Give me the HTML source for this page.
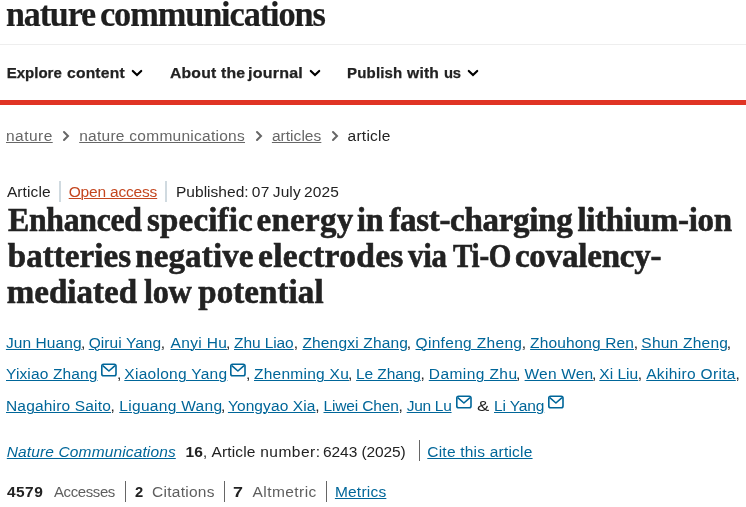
<!DOCTYPE html>
<html lang="en"><head><meta charset="utf-8"><title>Enhanced specific energy in fast-charging lithium-ion batteries negative electrodes via Ti-O covalency-mediated low potential | Nature Communications</title>
<style>
html,body{margin:0;padding:0;background:#fff;}
body{width:746px;height:507px;overflow:hidden;position:relative;font-family:'Liberation Sans',sans-serif;}
.s{position:absolute;white-space:nowrap;}
.cm{color:#222;text-decoration:none;letter-spacing:0}
.env{position:absolute;}
.rule{position:absolute;}
.f-title{-webkit-text-stroke:0.6px #222;}
.f-logo{-webkit-text-stroke:0.2px #1f1f1f;}
.f-nav{-webkit-text-stroke:0.25px #222;}
.f-logo{font-family:'Liberation Serif', serif;font-size:36px;line-height:36px;font-weight:700;font-style:normal;color:#1f1f1f}
.f-logo .logo{color:#1f1f1f;text-decoration:none;}
.f-nav{font-family:'Liberation Sans', sans-serif;font-size:15px;line-height:15px;font-weight:700;font-style:normal;color:#222}
.f-nav .nav{color:#222;text-decoration:none;}
.f-bc{font-family:'Liberation Sans', sans-serif;font-size:15.5px;line-height:15.5px;font-weight:400;font-style:normal;color:#666}
.f-bc .bc{color:#666;text-decoration:underline;text-decoration-thickness:1px;text-underline-offset:1px;}
.f-bcl{font-family:'Liberation Sans', sans-serif;font-size:15.5px;line-height:15.5px;font-weight:400;font-style:normal;color:#222}
.f-bcl .bcl{color:#222;text-decoration:none;}
.f-txt{font-family:'Liberation Sans', sans-serif;font-size:15.5px;line-height:15.5px;font-weight:400;font-style:normal;color:#222}
.f-txt .txt{color:#222;text-decoration:none;}
.f-oa{font-family:'Liberation Sans', sans-serif;font-size:15.5px;line-height:15.5px;font-weight:400;font-style:normal;color:#c4461f}
.f-oa .oa{color:#c4461f;text-decoration:underline;text-decoration-thickness:1px;text-underline-offset:1px;}
.f-title{font-family:'Liberation Serif', serif;font-size:33px;line-height:33px;font-weight:700;font-style:normal;color:#222}
.f-title .title{color:#222;text-decoration:none;}
.f-au{font-family:'Liberation Sans', sans-serif;font-size:15.5px;line-height:15.5px;font-weight:400;font-style:normal;color:#069}
.f-au .au{color:#069;text-decoration:underline;text-decoration-thickness:1px;text-underline-offset:1px;}
.f-jn{font-family:'Liberation Sans', sans-serif;font-size:15.5px;line-height:15.5px;font-weight:400;font-style:italic;color:#069}
.f-jn .jn{color:#069;text-decoration:underline;text-decoration-thickness:1px;text-underline-offset:1px;}
.f-bold{font-family:'Liberation Sans', sans-serif;font-size:15.5px;line-height:15.5px;font-weight:700;font-style:normal;color:#222}
.f-bold .bold{color:#222;text-decoration:none;}
.f-gray{font-family:'Liberation Sans', sans-serif;font-size:15.5px;line-height:15.5px;font-weight:400;font-style:normal;color:#5e5e5e}
.f-gray .gray{color:#5e5e5e;text-decoration:none;}
</style></head>
<body>
<header>
<div class="rule" style="left:0;top:44px;width:746px;height:1px;background:#eee"></div>
<nav>
<svg class="rule" style="left:0;top:0" width="746" height="100" viewBox="0 0 746 100">
<path d="M132.8 71 L137 75 L141.2 71" fill="none" stroke="#000" stroke-width="2.2" stroke-linecap="round" stroke-linejoin="miter"/>
<path d="M310.8 71 L315 75 L319.2 71" fill="none" stroke="#000" stroke-width="2.2" stroke-linecap="round" stroke-linejoin="miter"/>
<path d="M468.8 71 L473 75 L477.2 71" fill="none" stroke="#000" stroke-width="2.2" stroke-linecap="round" stroke-linejoin="miter"/>
</svg>
</nav>
<div class="rule" style="left:0;top:100px;width:746px;height:5px;background:#e03424"></div>
</header>
<svg class="rule" style="left:0;top:120px" width="746" height="30" viewBox="0 120 746 30">
<path d="M64 132 L68 136 L64 140" fill="none" stroke="#666" stroke-width="2" stroke-linecap="round"/>
<path d="M257 132 L261 136 L257 140" fill="none" stroke="#666" stroke-width="2" stroke-linecap="round"/>
<path d="M333 132 L337 136 L333 140" fill="none" stroke="#666" stroke-width="2" stroke-linecap="round"/>
</svg>
<div class="rule" style="left:59px;top:181px;width:2px;height:21px;background:#d0dae0"></div>
<div class="rule" style="left:165px;top:181px;width:2px;height:21px;background:#d0dae0"></div>
<div class="rule" style="left:419px;top:440px;width:1px;height:21px;background:#666"></div>
<div class="rule" style="left:125px;top:481px;width:1px;height:21px;background:#666"></div>
<div class="rule" style="left:224px;top:481px;width:1px;height:21px;background:#666"></div>
<div class="rule" style="left:326px;top:481px;width:1px;height:21px;background:#666"></div>
<div class="s f-logo" style="left:6.05px;top:-4px;letter-spacing:-1.200px;transform:scaleX(0.9452);transform-origin:0 0;"><span class="logo">nature</span></div>
<div class="s f-logo" style="left:99.64px;top:-4px;letter-spacing:-1.200px;transform:scaleX(0.9552);transform-origin:0 0;"><span class="logo">communications</span></div>
<div class="s f-nav" style="left:6.70px;top:65px;letter-spacing:0.017px;"><span class="nav">Explore</span></div>
<div class="s f-nav" style="left:67.16px;top:65px;letter-spacing:0.200px;transform:scaleX(1.0406);transform-origin:0 0;"><span class="nav">content</span></div>
<div class="s f-nav" style="left:169.50px;top:65px;letter-spacing:0.200px;transform:scaleX(1.0479);transform-origin:0 0;"><span class="nav">About</span></div>
<div class="s f-nav" style="left:221.20px;top:65px;letter-spacing:0.200px;transform:scaleX(1.0536);transform-origin:0 0;"><span class="nav">the</span></div>
<div class="s f-nav" style="left:248.20px;top:65px;letter-spacing:0.200px;transform:scaleX(1.0697);transform-origin:0 0;"><span class="nav">journal</span></div>
<div class="s f-nav" style="left:347.00px;top:65px;letter-spacing:0.183px;"><span class="nav">Publish</span></div>
<div class="s f-nav" style="left:407.20px;top:65px;letter-spacing:0.200px;transform:scaleX(1.0439);transform-origin:0 0;"><span class="nav">with</span></div>
<div class="s f-nav" style="left:444.01px;top:65px;letter-spacing:-0.200px;transform:scaleX(0.9873);transform-origin:0 0;"><span class="nav">us</span></div>
<div class="s f-bc" style="left:6.00px;top:128px;letter-spacing:0.460px;"><a class="bc">nature</a></div>
<div class="s f-bc" style="left:79.20px;top:128px;letter-spacing:0.265px;"><a class="bc">nature communications</a></div>
<div class="s f-bc" style="left:271.90px;top:128px;letter-spacing:0.043px;"><a class="bc">articles</a></div>
<div class="s f-bcl" style="left:347.50px;top:128px;letter-spacing:0.267px;"><span class="bcl">article</span></div>
<div class="s f-txt" style="left:6.90px;top:184px;letter-spacing:0.117px;"><span class="txt">Article</span></div>
<div class="s f-oa" style="left:68.70px;top:184px;letter-spacing:-0.180px;"><a class="oa">Open access</a></div>
<div class="s f-txt" style="left:176.00px;top:184px;letter-spacing:0.022px;"><span class="txt">Published:</span></div>
<div class="s f-txt" style="left:251.70px;top:184px;letter-spacing:0.400px;"><span class="txt">07</span></div>
<div class="s f-txt" style="left:272.80px;top:184px;letter-spacing:0.100px;"><span class="txt">July</span></div>
<div class="s f-txt" style="left:303.90px;top:184px;letter-spacing:0.133px;"><span class="txt">2025</span></div>
<div class="s f-title" style="left:8.00px;top:204px;letter-spacing:-0.300px;transform:scaleX(0.9626);transform-origin:0 0;"><span class="title">Enhanced</span></div>
<div class="s f-title" style="left:147.00px;top:204px;letter-spacing:0.186px;"><span class="title">specific</span></div>
<div class="s f-title" style="left:256.50px;top:204px;letter-spacing:0.280px;"><span class="title">energy</span></div>
<div class="s f-title" style="left:357.33px;top:204px;letter-spacing:-0.300px;transform:scaleX(0.9728);transform-origin:0 0;"><span class="title">in</span></div>
<div class="s f-title" style="left:389.30px;top:204px;letter-spacing:-0.300px;"><span class="title">fast-charging</span></div>
<div class="s f-title" style="left:577.40px;top:204px;letter-spacing:-0.300px;"><span class="title">lithium-ion</span></div>
<div class="s f-title" style="left:7.80px;top:240px;letter-spacing:0.050px;"><span class="title">batteries</span></div>
<div class="s f-title" style="left:135.20px;top:240px;letter-spacing:0.143px;"><span class="title">negative</span></div>
<div class="s f-title" style="left:257.78px;top:240px;letter-spacing:0.300px;transform:scaleX(1.0155);transform-origin:0 0;"><span class="title">electrodes</span></div>
<div class="s f-title" style="left:407.90px;top:240px;letter-spacing:-0.300px;transform:scaleX(0.9372);transform-origin:0 0;"><span class="title">via</span></div>
<div class="s f-title" style="left:453.00px;top:240px;letter-spacing:-0.300px;transform:scaleX(0.8802);transform-origin:0 0;"><span class="title">Ti-O</span></div>
<div class="s f-title" style="left:514.90px;top:240px;letter-spacing:-0.200px;"><span class="title">covalency-</span></div>
<div class="s f-title" style="left:6.80px;top:276px;letter-spacing:0.014px;"><span class="title">mediated</span></div>
<div class="s f-title" style="left:143.72px;top:276px;letter-spacing:-0.300px;transform:scaleX(0.9793);transform-origin:0 0;"><span class="title">low</span></div>
<div class="s f-title" style="left:198.20px;top:276px;letter-spacing:0.087px;"><span class="title">potential</span></div>
<div class="s f-au" style="left:5.90px;top:335px;letter-spacing:0.087px;"><a class="au">Jun Huang</a></div>
<div class="s f-au" style="left:88.70px;top:335px;letter-spacing:0.078px;"><a class="au">Qirui Yang</a></div>
<div class="s f-au" style="left:170.50px;top:335px;letter-spacing:0.367px;"><a class="au">Anyi Hu</a></div>
<div class="s f-au" style="left:234.00px;top:335px;letter-spacing:-0.086px;"><a class="au">Zhu Liao</a></div>
<div class="s f-au" style="left:302.40px;top:335px;letter-spacing:0.175px;"><a class="au">Zhengxi Zhang</a></div>
<div class="s f-au" style="left:415.50px;top:335px;letter-spacing:0.325px;"><a class="au">Qinfeng Zheng</a></div>
<div class="s f-au" style="left:530.10px;top:335px;letter-spacing:0.118px;"><a class="au">Zhouhong Ren</a></div>
<div class="s f-au" style="left:641.30px;top:335px;letter-spacing:0.244px;"><a class="au">Shun Zheng</a></div>
<div class="s f-au" style="left:6.00px;top:366px;letter-spacing:0.136px;"><a class="au">Yixiao Zhang</a></div>
<div class="s f-au" style="left:124.30px;top:366px;letter-spacing:0.283px;"><a class="au">Xiaolong Yang</a></div>
<div class="s f-au" style="left:254.00px;top:366px;letter-spacing:0.260px;"><a class="au">Zhenming Xu</a></div>
<div class="s f-au" style="left:356.10px;top:366px;letter-spacing:-0.114px;"><a class="au">Le Zhang</a></div>
<div class="s f-au" style="left:428.80px;top:366px;letter-spacing:0.422px;"><a class="au">Daming Zhu</a></div>
<div class="s f-au" style="left:524.60px;top:366px;letter-spacing:0.167px;"><a class="au">Wen Wen</a></div>
<div class="s f-au" style="left:599.30px;top:366px;letter-spacing:0.020px;"><a class="au">Xi Liu</a></div>
<div class="s f-au" style="left:646.20px;top:366px;letter-spacing:0.333px;"><a class="au">Akihiro Orita</a></div>
<div class="s f-au" style="left:6.00px;top:398px;letter-spacing:0.177px;"><a class="au">Nagahiro Saito</a></div>
<div class="s f-au" style="left:119.30px;top:398px;letter-spacing:0.309px;"><a class="au">Liguang Wang</a></div>
<div class="s f-au" style="left:227.90px;top:398px;letter-spacing:0.100px;"><a class="au">Yongyao Xia</a></div>
<div class="s f-au" style="left:323.50px;top:398px;letter-spacing:-0.144px;"><a class="au">Liwei Chen</a></div>
<div class="s f-au" style="left:406.70px;top:398px;letter-spacing:-0.280px;"><a class="au">Jun Lu</a></div>
<div class="s f-txt" style="left:477.20px;top:398px;letter-spacing:0.000px;transform:scaleX(1.1900);transform-origin:0 0;"><span class="txt">&amp;</span></div>
<div class="s f-au" style="left:494.00px;top:398px;letter-spacing:-0.133px;"><a class="au">Li Yang</a></div>
<div class="s f-jn" style="left:6.80px;top:444px;letter-spacing:0.130px;"><a class="jn">Nature Communications</a></div>
<div class="s f-bold" style="left:185.60px;top:444px;letter-spacing:0.100px;"><span class="bold">16</span></div>
<div class="s f-txt" style="left:203.15px;top:444px;letter-spacing:0.000px;transform:scaleX(0.9500);transform-origin:0 0;"><span class="txt">,</span></div>
<div class="s f-txt" style="left:211.60px;top:444px;letter-spacing:0.117px;"><span class="txt">Article</span></div>
<div class="s f-txt" style="left:260.20px;top:444px;letter-spacing:0.483px;"><span class="txt">number:</span></div>
<div class="s f-txt" style="left:323.00px;top:444px;letter-spacing:-0.067px;"><span class="txt">6243</span></div>
<div class="s f-txt" style="left:361.60px;top:444px;letter-spacing:-0.140px;"><span class="txt">(2025)</span></div>
<div class="s f-au" style="left:427.30px;top:444px;letter-spacing:0.213px;"><a class="au">Cite this article</a></div>
<div class="s f-bold" style="left:7.00px;top:484px;letter-spacing:0.433px;"><span class="bold">4579</span></div>
<div class="s f-gray" style="left:53.50px;top:484px;letter-spacing:-0.400px;transform:scaleX(0.9652);transform-origin:0 0;"><span class="gray">Accesses</span></div>
<div class="s f-bold" style="left:134.70px;top:484px;letter-spacing:0.000px;transform:scaleX(0.9500);transform-origin:0 0;"><span class="bold">2</span></div>
<div class="s f-gray" style="left:152.10px;top:484px;letter-spacing:0.262px;"><span class="gray">Citations</span></div>
<div class="s f-bold" style="left:232.94px;top:484px;letter-spacing:0.000px;transform:scaleX(1.1571);transform-origin:0 0;"><span class="bold">7</span></div>
<div class="s f-gray" style="left:252.50px;top:484px;letter-spacing:0.438px;"><span class="gray">Altmetric</span></div>
<div class="s f-au" style="left:334.90px;top:484px;letter-spacing:0.217px;"><a class="au">Metrics</a></div>
<svg class="env" style="left:101px;top:363px" width="16" height="14" viewBox="0 0 16 14"><rect x="0.8" y="1.2" width="14.2" height="11.5" rx="1.8" fill="none" stroke="#069" stroke-width="1.6"/><path d="M1.8 2.6 L7.9 8.0 L14.0 2.6" fill="none" stroke="#069" stroke-width="1.6" stroke-linejoin="round"/></svg>
<svg class="env" style="left:230.2px;top:363px" width="16" height="14" viewBox="0 0 16 14"><rect x="0.8" y="1.2" width="14.2" height="11.5" rx="1.8" fill="none" stroke="#069" stroke-width="1.6"/><path d="M1.8 2.6 L7.9 8.0 L14.0 2.6" fill="none" stroke="#069" stroke-width="1.6" stroke-linejoin="round"/></svg>
<svg class="env" style="left:456.1px;top:395px" width="16" height="14" viewBox="0 0 16 14"><rect x="0.8" y="1.2" width="14.2" height="11.5" rx="1.8" fill="none" stroke="#069" stroke-width="1.6"/><path d="M1.8 2.6 L7.9 8.0 L14.0 2.6" fill="none" stroke="#069" stroke-width="1.6" stroke-linejoin="round"/></svg>
<svg class="env" style="left:547.6px;top:395px" width="16" height="14" viewBox="0 0 16 14"><rect x="0.8" y="1.2" width="14.2" height="11.5" rx="1.8" fill="none" stroke="#069" stroke-width="1.6"/><path d="M1.8 2.6 L7.9 8.0 L14.0 2.6" fill="none" stroke="#069" stroke-width="1.6" stroke-linejoin="round"/></svg>
<div class="s f-txt" style="left:117.00px;top:366px"><span class="cm">,</span></div>
<div class="s f-txt" style="left:246.00px;top:366px"><span class="cm">,</span></div>
<div class="s f-txt" style="left:80.90px;top:335px"><span class="cm">,</span></div>
<div class="s f-txt" style="left:160.70px;top:335px"><span class="cm">,</span></div>
<div class="s f-txt" style="left:226.00px;top:335px"><span class="cm">,</span></div>
<div class="s f-txt" style="left:293.70px;top:335px"><span class="cm">,</span></div>
<div class="s f-txt" style="left:406.80px;top:335px"><span class="cm">,</span></div>
<div class="s f-txt" style="left:521.70px;top:335px"><span class="cm">,</span></div>
<div class="s f-txt" style="left:633.70px;top:335px"><span class="cm">,</span></div>
<div class="s f-txt" style="left:726.80px;top:335px"><span class="cm">,</span></div>
<div class="s f-txt" style="left:347.90px;top:366px"><span class="cm">,</span></div>
<div class="s f-txt" style="left:420.60px;top:366px"><span class="cm">,</span></div>
<div class="s f-txt" style="left:515.90px;top:366px"><span class="cm">,</span></div>
<div class="s f-txt" style="left:591.90px;top:366px"><span class="cm">,</span></div>
<div class="s f-txt" style="left:637.70px;top:366px"><span class="cm">,</span></div>
<div class="s f-txt" style="left:735.50px;top:366px"><span class="cm">,</span></div>
<div class="s f-txt" style="left:110.60px;top:398px"><span class="cm">,</span></div>
<div class="s f-txt" style="left:221.00px;top:398px"><span class="cm">,</span></div>
<div class="s f-txt" style="left:315.20px;top:398px"><span class="cm">,</span></div>
<div class="s f-txt" style="left:398.50px;top:398px"><span class="cm">,</span></div>
</body></html>
